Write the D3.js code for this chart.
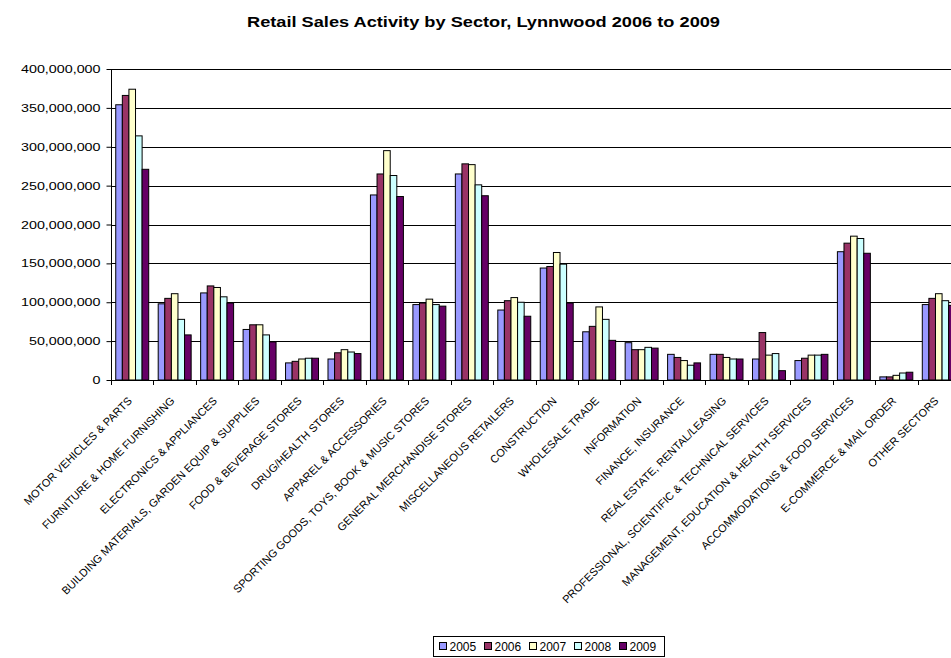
<!DOCTYPE html>
<html>
<head>
<meta charset="utf-8">
<script src="https://cdn.jsdelivr.net/npm/d3@7"></script>
<style>
  body { margin: 0; background: #fff; }
  svg { font-family: Arial, "Liberation Sans", sans-serif; }
</style>
</head>
<body>
<svg width="951" height="658"></svg>
<script>
var sectors = [
  'MOTOR VEHICLES & PARTS',
  'FURNITURE & HOME FURNISHING',
  'ELECTRONICS & APPLIANCES',
  'BUILDING MATERIALS, GARDEN EQUIP & SUPPLIES',
  'FOOD & BEVERAGE STORES',
  'DRUG/HEALTH STORES',
  'APPAREL & ACCESSORIES',
  'SPORTING GOODS, TOYS, BOOK & MUSIC STORES',
  'GENERAL MERCHANDISE STORES',
  'MISCELLANEOUS RETAILERS',
  'CONSTRUCTION',
  'WHOLESALE TRADE',
  'INFORMATION',
  'FINANCE, INSURANCE',
  'REAL ESTATE, RENTAL/LEASING',
  'PROFESSIONAL, SCIENTIFIC & TECHNICAL SERVICES',
  'MANAGEMENT, EDUCATION & HEALTH SERVICES',
  'ACCOMMODATIONS & FOOD SERVICES',
  'E-COMMERCE & MAIL ORDER',
  'OTHER SECTORS'
];
var years = ['2005', '2006', '2007', '2008', '2009'];
var colors = ['#9999FF', '#993366', '#FFFFCC', '#CCFFFF', '#660066'];

// millions of dollars
var sales2005 = [354, 98, 112, 65, 22, 27, 238, 97, 265, 90, 144, 62, 48, 33, 33, 27, 25, 165, 4, 97];
var sales2006 = [366, 105, 121, 71, 24, 35, 265, 99, 278, 102, 146, 69, 39, 29, 33, 61, 28, 176, 4, 105];
var sales2007 = [374, 111, 119, 71, 27, 39, 295, 104, 277, 106, 164, 94, 39, 25, 29, 32, 32, 185, 6, 111];
var sales2008 = [314, 78, 107, 58, 28, 36, 263, 97, 251, 100, 149, 78, 42, 19, 27, 34, 32, 182, 9, 102];
var sales2009 = [271, 58, 99, 49, 28, 34, 236, 95, 237, 82, 99, 51, 41, 22, 27, 12, 33, 163, 10, 96];
var series = [sales2005, sales2006, sales2007, sales2008, sales2009];

var yTicks = [0, 50e6, 100e6, 150e6, 200e6, 250e6, 300e6, 350e6, 400e6];

var svg = d3.select('svg');
var plotLeft = 111, plotRight = 960, plotTop = 69, plotBottom = 380;

var x = d3.scaleBand().domain(sectors).range([plotLeft, plotRight]);
var x1 = d3.scaleBand().domain(years).range([0, x.bandwidth()]).paddingOuter(0.72);
var y = d3.scaleLinear().domain([0, 400e6]).range([plotBottom, plotTop]);

svg.append('text')
  .attr('x', 247).attr('y', 27)
  .attr('textLength', 473).attr('lengthAdjust', 'spacingAndGlyphs')
  .style('font-weight', 'bold').style('font-size', '15px')
  .text('Retail Sales Activity by Sector, Lynnwood 2006 to 2009');

// gridlines
svg.append('g').selectAll('line')
  .data(yTicks.slice(1))
  .enter().append('line')
  .attr('x1', plotLeft).attr('x2', plotRight)
  .attr('y1', function(d) { return Math.round(y(d)) + 0.5; })
  .attr('y2', function(d) { return Math.round(y(d)) + 0.5; })
  .style('stroke', '#000').style('stroke-width', 1);

// bars
years.forEach(function(yr, i) {
  svg.append('g').selectAll('rect')
    .data(series[i])
    .enter().append('rect')
    .attr('x', function(d, j) { return x(sectors[j]) + x1(yr); })
    .attr('y', function(d) { return y(d * 1e6); })
    .attr('width', x1.bandwidth())
    .attr('height', function(d) { return plotBottom - y(d * 1e6); })
    .style('fill', colors[i])
    .style('stroke', '#000')
    .style('stroke-width', 1);
});

// y axis
var yAxis = svg.append('g')
  .attr('transform', 'translate(' + (plotLeft + 0.5) + ',0)')
  .call(d3.axisLeft(y).tickValues(yTicks).tickFormat(d3.format(',')).tickSize(5).tickPadding(6));
yAxis.selectAll('text')
  .style('font-size', '11px')
  .style('font-family', 'Arial, "Liberation Sans", sans-serif')
  .attr('fill', '#000')
  .attr('x', -11 / 1.3)
  .attr('transform', 'scale(1.3,1)');
yAxis.select('.domain').attr('d', 'M0,' + plotTop + 'V' + plotBottom);

// x axis line and boundary ticks
svg.append('line')
  .attr('x1', plotLeft).attr('x2', plotRight)
  .attr('y1', plotBottom + 0.5).attr('y2', plotBottom + 0.5)
  .style('stroke', '#000');
svg.append('g').selectAll('line')
  .data(d3.range(sectors.length + 1))
  .enter().append('line')
  .attr('x1', function(i) { return Math.round(plotLeft + i * x.step()) + 0.5; })
  .attr('x2', function(i) { return Math.round(plotLeft + i * x.step()) + 0.5; })
  .attr('y1', plotBottom).attr('y2', plotBottom + 5)
  .style('stroke', '#000');

// category labels
svg.append('g').selectAll('text')
  .data(sectors)
  .enter().append('text')
  .attr('transform', function(d) {
    return 'translate(' + (x(d) + x.bandwidth() / 2 - 5) + ',' + 396 + ') rotate(-45)';
  })
  .attr('text-anchor', 'end')
  .attr('dy', '0.71em')
  .style('font-size', '11px')
  .text(function(d) { return d; });

// legend
var legend = svg.append('g').attr('transform', 'translate(433.5,636.5)');
legend.append('rect')
  .attr('width', 231).attr('height', 20)
  .style('fill', '#fff').style('stroke', '#000');
var item = legend.selectAll('g.item')
  .data(years)
  .enter().append('g')
  .attr('transform', function(d, i) { return 'translate(' + (6 + i * 45) + ',0)'; });
item.append('rect')
  .attr('x', 0).attr('y', 6).attr('width', 7).attr('height', 7)
  .style('fill', function(d, i) { return colors[i]; })
  .style('stroke', '#000');
item.append('text')
  .attr('x', 10).attr('y', 14)
  .style('font-size', '12px')
  .text(function(d) { return d; });
</script>
</body>
</html>
